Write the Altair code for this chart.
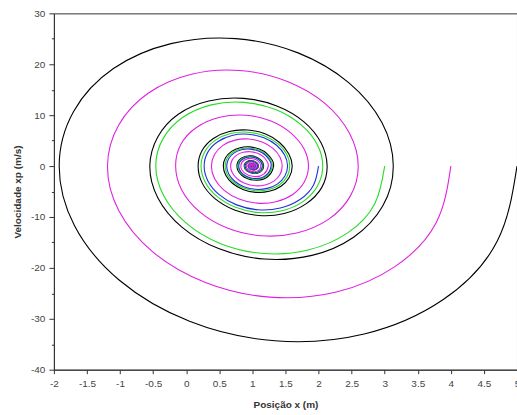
import altair as alt
import pandas as pd

# Phase portrait: position x (m) vs velocity xp (m/s); four trajectories
black_x = [5, 4.70, 3.88, 2.69, 1.34, 0.05, -1.01, -1.69, -1.92, -1.70, -1.10, -0.23, 0.75, 1.69, 2.46, 2.96,
           3.13, 2.97, 2.53, 1.90, 1.18, 0.49, -0.07, -0.43, -0.55, -0.43, -0.12, 0.34, 0.87, 1.37, 1.78, 2.04,
           2.13, 2.05, 1.81, 1.48, 1.10, 0.73, 0.43, 0.24, 0.18, 0.24, 0.41, 0.65, 0.93, 1.20, 1.41, 1.55,
           1.602, 1.556, 1.433, 1.254, 1.052, 0.857, 0.698, 0.596, 0.561, 0.594, 0.685, 0.815, 0.962, 1.104, 1.220, 1.295,
           1.320, 1.230, 1.027, 0.839, 0.767, 0.832, 0.980, 1.117,
           1.170, 1.122, 1.015, 0.915, 0.876, 0.911, 0.989, 1.062,
           1.091, 1.065, 1.008, 0.955, 0.934, 0.953, 0.994, 1.033,
           1.048, 1.035, 1.004, 0.976, 0.965, 0.975, 0.997, 1.018,
           1.026, 1.018, 1.002, 0.987, 0.981, 0.987, 0.998, 1.009, 1.0]
black_v = [0, -14.79, -26.27, -32.99, -34.33, -30.49, -22.43, -11.67, 0, 10.78, 19.16, 24.06, 25.04, 22.24, 16.36, 8.51,
           0, -7.86, -13.97, -17.54, -18.26, -16.21, -11.93, -6.21, 0, 5.73, 10.19, 12.80, 13.31, 11.82, 8.70, 4.53,
           0, -4.18, -7.43, -9.33, -9.71, -8.62, -6.34, -3.30, 0, 3.05, 5.42, 6.80, 7.08, 6.29, 4.63, 2.41,
           0, -2.224, -3.950, -4.961, -5.163, -4.585, -3.373, -1.755, 0, 1.622, 2.881, 3.619, 3.765, 3.344, 2.460, 1.280,
           0, -2.101, -2.746, -1.794, 0, 1.532, 2.002, 1.308,
           0, -1.117, -1.460, -0.954, 0, 0.815, 1.065, 0.696,
           0, -0.594, -0.777, -0.508, 0, 0.433, 0.566, 0.370,
           0, -0.316, -0.413, -0.270, 0, 0.230, 0.301, 0.197,
           0, -0.168, -0.220, -0.144, 0, 0.123, 0.160, 0.105, 0]

mag_x = [4, 3.78, 3.16, 2.27, 1.26, 0.29, -0.51, -1.02, -1.19, -1.02, -0.57, 0.08, 0.81, 1.52, 2.10, 2.47,
         2.60, 2.48, 2.15, 1.67, 1.14, 0.62, 0.20, -0.07, -0.16, -0.08, 0.16, 0.51, 0.90, 1.28, 1.58, 1.78,
         1.848, 1.785, 1.610, 1.358, 1.073, 0.798, 0.574, 0.430, 0.381, 0.428, 0.555, 0.739, 0.947, 1.147, 1.311, 1.416,
         1.451, 1.417, 1.325, 1.191, 1.039, 0.893, 0.774, 0.697, 0.671, 0.696, 0.763, 0.861, 0.972, 1.078, 1.165, 1.221,
         1.240, 1.173, 1.021, 0.880, 0.825, 0.874, 0.985, 1.088,
         1.128, 1.092, 1.011, 0.936, 0.907, 0.933, 0.992, 1.047,
         1.068, 1.049, 1.006, 0.966, 0.950, 0.964, 0.996, 1.025,
         1.036, 1.026, 1.003, 0.982, 0.974, 0.981, 0.998, 1.013, 1.0]
mag_v = [0, -11.09, -19.70, -24.74, -25.75, -22.87, -16.82, -8.75, 0, 8.09, 14.37, 18.05, 18.78, 16.68, 12.27, 6.38,
         0, -5.90, -10.47, -13.16, -13.69, -12.16, -8.94, -4.65, 0, 4.30, 7.64, 9.60, 9.98, 8.87, 6.52, 3.39,
         0, -3.137, -5.571, -6.998, -7.282, -6.467, -4.758, -2.476, 0, 2.287, 4.063, 5.104, 5.310, 4.716, 3.470, 1.805,
         0, -1.668, -2.963, -3.722, -3.873, -3.439, -2.530, -1.317, 0, 1.216, 2.161, 2.714, 2.824, 2.508, 1.845, 0.960,
         0, -1.576, -2.060, -1.346, 0, 1.149, 1.502, 0.982,
         0, -0.838, -1.095, -0.716, 0, 0.611, 0.799, 0.522,
         0, -0.446, -0.583, -0.381, 0, 0.325, 0.425, 0.278,
         0, -0.237, -0.310, -0.202, 0, 0.173, 0.226, 0.148, 0]

grn_x = [3, 2.85, 2.44, 1.84, 1.17, 0.52, 0.00, -0.34, -0.46, -0.35, -0.05, 0.38, 0.87, 1.35, 1.73, 1.98,
         2.064, 1.984, 1.765, 1.449, 1.091, 0.747, 0.466, 0.286, 0.224, 0.283, 0.442, 0.672, 0.933, 1.185, 1.389, 1.521,
         1.566, 1.523, 1.407, 1.239, 1.049, 0.865, 0.716, 0.620, 0.588, 0.618, 0.703, 0.826, 0.965, 1.098, 1.207, 1.277,
         1.301, 1.216, 1.026, 0.849, 0.781, 0.842, 0.981, 1.110,
         1.160, 1.115, 1.014, 0.920, 0.883, 0.916, 0.990, 1.059,
         1.085, 1.061, 1.007, 0.957, 0.938, 0.955, 0.995, 1.031,
         1.045, 1.033, 1.004, 0.977, 0.967, 0.976, 0.997, 1.017, 1.0]
grn_v = [0, -7.39, -13.13, -16.50, -17.17, -15.24, -11.22, -5.84, 0, 5.39, 9.58, 12.03, 12.52, 11.12, 8.18, 4.26,
         0, -3.932, -6.985, -8.773, -9.129, -8.107, -5.965, -3.104, 0, 2.867, 5.094, 6.399, 6.657, 5.913, 4.350, 2.263,
         0, -2.091, -3.714, -4.665, -4.855, -4.311, -3.172, -1.650, 0, 1.525, 2.709, 3.403, 3.540, 3.144, 2.313, 1.204,
         0, -1.975, -2.582, -1.687, 0, 1.441, 1.883, 1.230,
         0, -1.051, -1.373, -0.897, 0, 0.766, 1.001, 0.654,
         0, -0.559, -0.731, -0.477, 0, 0.408, 0.533, 0.348,
         0, -0.297, -0.388, -0.253, 0, 0.216, 0.283, 0.185, 0]

blu_x = [2, 1.925, 1.719, 1.422, 1.086, 0.762, 0.498, 0.328, 0.271, 0.325, 0.476, 0.692, 0.937, 1.174, 1.366, 1.490,
         1.532, 1.492, 1.382, 1.225, 1.046, 0.873, 0.733, 0.643, 0.612, 0.641, 0.721, 0.836, 0.967, 1.092, 1.195, 1.260,
         1.283, 1.203, 1.024, 0.858, 0.794, 0.852, 0.982, 1.104,
         1.150, 1.108, 1.013, 0.925, 0.890, 0.921, 0.991, 1.055,
         1.080, 1.058, 1.007, 0.960, 0.942, 0.958, 0.995, 1.029,
         1.043, 1.031, 1.004, 0.979, 0.969, 0.978, 0.997, 1.016, 1.0]
blu_v = [0, -3.697, -6.567, -8.248, -8.583, -7.622, -5.608, -2.918, 0, 2.696, 4.789, 6.016, 6.259, 5.559, 4.090, 2.128,
         0, -1.966, -3.492, -4.386, -4.564, -4.053, -2.982, -1.552, 0, 1.434, 2.547, 3.199, 3.329, 2.956, 2.175, 1.132,
         0, -1.857, -2.427, -1.586, 0, 1.354, 1.770, 1.157,
         0, -0.988, -1.291, -0.843, 0, 0.720, 0.941, 0.615,
         0, -0.525, -0.687, -0.449, 0, 0.383, 0.501, 0.327,
         0, -0.279, -0.365, -0.238, 0, 0.204, 0.266, 0.174, 0]

x_ticks = [-2, -1.5, -1, -0.5, 0, 0.5, 1, 1.5, 2, 2.5, 3, 3.5, 4, 4.5, 5]
y_ticks = [-40, -35, -30, -25, -20, -15, -10, -5, 0, 5, 10, 15, 20, 25, 30]

series_names = ["a_black", "b_green", "c_blue", "d_magenta"]
series_colors = ["#000000", "#22dd22", "#1f2fe0", "#e020e0"]
series_data = [(black_x, black_v), (grn_x, grn_v), (blu_x, blu_v), (mag_x, mag_v)]

rows = []
for name, (xs, vs) in zip(series_names, series_data):
    for i, (xv, vv) in enumerate(zip(xs, vs)):
        rows.append({"s": name, "x": xv, "v": vv, "i": i})
df = pd.DataFrame(rows)

FONT = "Liberation Sans"

x_axis = alt.Axis(values=x_ticks, labelExpr="'' + datum.value", tickSize=4, labelPadding=5,
                  labelFontSize=10, labelColor="#444", labelFont=FONT, labelFlush=False,
                  labelOverlap=False, title="Posição x (m)", titleFont=FONT, titleFontSize=10,
                  titleFontWeight="bold", titleColor="#333", titlePadding=11,
                  domainColor="#333", tickColor="#333", grid=False)
y_axis = alt.Axis(values=y_ticks, labelExpr="datum.value % 10 == 0 ? '' + datum.value : ''",
                  tickSize={"condition": {"test": "datum.value % 10 != 0", "value": 2.5}, "value": 5},
                  labelPadding=4, labelFontSize=10, labelColor="#444", labelFont=FONT,
                  labelOverlap=False, labelFlush=False,
                  title="Velocidade xp (m/s)", titleFont=FONT, titleFontSize=10,
                  titleFontWeight="bold", titleColor="#333", titlePadding=8,
                  domainColor="#333", tickColor="#333", grid=False)

chart = alt.Chart(df).mark_line(strokeWidth=1.1, interpolate="natural", clip=True).encode(
    x=alt.X("x:Q", scale=alt.Scale(domain=[-2, 5], nice=False, zero=False), axis=x_axis),
    y=alt.Y("v:Q", scale=alt.Scale(domain=[-40, 30], nice=False, zero=False), axis=y_axis),
    color=alt.Color("s:N", scale=alt.Scale(domain=series_names, range=series_colors), legend=None),
    order=alt.Order("i:Q"),
).properties(
    width=464, height=357,
    autosize=alt.AutoSizeParams(type="none"),
    padding={"left": 54, "top": 13, "right": 0, "bottom": 45},
    background="white",
).configure_view(stroke="#333", strokeWidth=1)

chart.save("out.html", embed_options={"renderer": "svg", "actions": False})
